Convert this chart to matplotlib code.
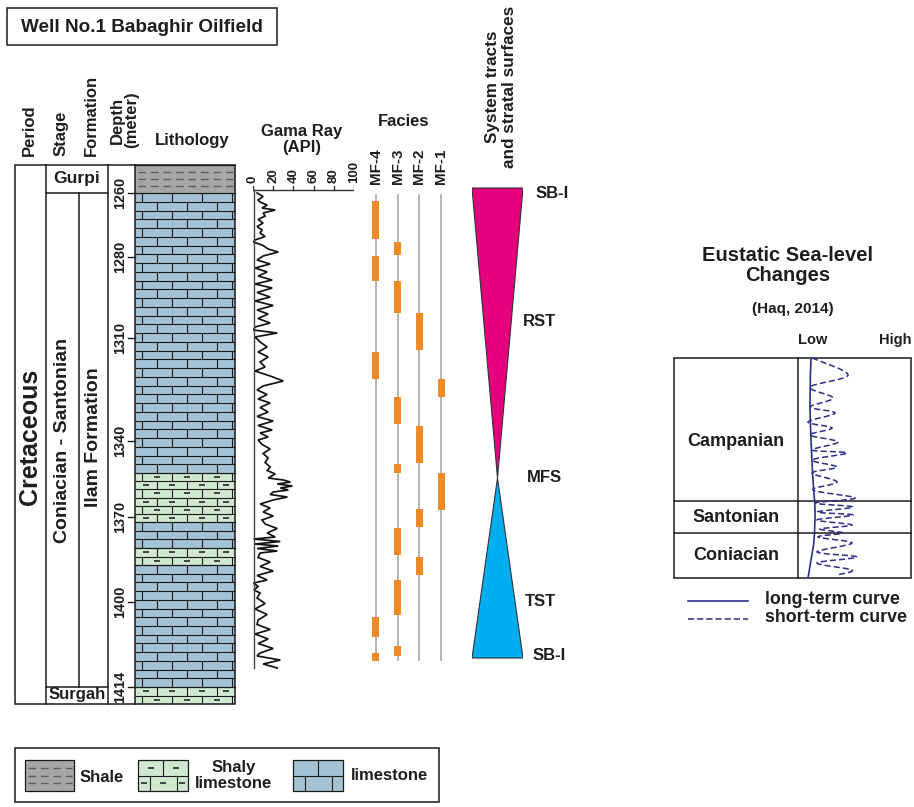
import numpy as np
import matplotlib
matplotlib.use('Agg')
import matplotlib.pyplot as plt
from matplotlib.patches import Rectangle, Polygon, PathPatch
from matplotlib.collections import LineCollection
from matplotlib.path import Path

plt.rcParams['font.family'] = ['Liberation Sans', 'DejaVu Sans']
plt.rcParams['font.weight'] = 'bold'

# ---------------- data (vertical unit = position down the log, chart rows) ----------------
depth_labels = ['1260', '1280', '1310', '1340', '1370', '1400', '1414']
depth_pos = [193, 257, 338, 441, 517, 602, 687]

lith_units = [('shale', 165, 193), ('limestone', 193, 473), ('shaly limestone', 473, 522),
              ('limestone', 522, 548), ('shaly limestone', 548, 565), ('limestone', 565, 687),
              ('shaly limestone', 687, 704)]

formations_top = ('Gurpi', 165, 193)
formations_bot = ('Surgah', 687, 704)

gr_ticks = [0, 20, 40, 60, 80, 100]
gr_pos = [193, 196.5, 200, 202, 205, 208, 210, 213, 216, 219.5, 223, 226.5, 230, 233, 236.5, 240,
          242, 245.5, 249, 252, 256, 260, 264, 268, 272, 276, 280,
          284, 288, 292.5, 297, 301, 305.5, 310, 314, 318.5, 323, 327,
          330, 333, 337, 342, 347, 352, 357, 362, 367, 371, 376, 381, 386,
          390, 394.5, 399, 403, 407.5, 412, 416.5, 421, 425.5, 430,
          433, 437, 440, 444.5, 449, 453.5, 458, 462.5, 467, 470.5, 474, 478,
          480, 482, 484, 486, 488, 490, 492, 494.5, 497, 500,
          504, 508, 512, 516, 520, 524, 528.5, 533, 537,
          539, 541.5, 544, 546, 548.5, 551, 553, 557.5, 562, 566.5, 571, 575.5, 580,
          583, 586.5, 590, 593, 598, 603.5, 609, 614.5, 620,
          624.5, 629.5, 634, 639, 643.5, 648.5, 653, 656, 660, 664, 668]
gr_api = [4, 10, 5, 7, 14, 9, 22, 10, 12, 5, 10, 4, 9, 7, 12, 2,
          0.5, 10, 15, 25, 10, 4, 17, 2, 14, 5, 19,
          2, 19, 4, 17, 2, 20, 4, 15, 5, 17, 2,
          0.5, 24, 2, 7, 14, 5, 15, 7, 12, 2, 17, 30, 10,
          4, 14, 5, 17, 7, 15, 4, 20, 5, 19,
          7, 15, 5, 9, 17, 10, 15, 12, 17, 14, 22, 15,
          30, 37, 24, 39, 27, 35, 20, 17, 34, 20,
          7, 17, 10, 20, 9, 12, 24, 14, 22,
          0.5, 27, 2, 25, 4, 24, 7, 5, 17, 7, 20, 4, 14,
          0.5, 5, 1, 7, 4, 12, 2, 14, 5,
          4, 17, 2, 15, 5, 20, 7, 4, 27, 10, 24]

facies_names = ['MF-4', 'MF-3', 'MF-2', 'MF-1']
facies_intervals = [
    [(201, 239), (256, 281), (352, 379), (617, 637), (653, 661)],
    [(242, 255), (281, 313), (397, 424), (464, 473), (528, 555), (580, 615), (646, 656)],
    [(313, 350), (426, 463), (509, 527), (557, 575)],
    [(379, 397), (473, 510)],
]
facies_span = (195, 660)

tract_names = ['RST', 'TST']
tract_bounds = [(188, 478), (478, 658)]
surface_names = ['SB-I', 'MFS', 'SB-I']

sl_stages = ['Campanian', 'Santonian', 'Coniacian']
sl_bounds = [358, 501, 533, 578]
long_pos = [358, 400, 440, 480, 510, 540, 560, 578]
long_val = [13, 12, 13, 15, 17, 16, 13, 10]
short_pos = [358, 375, 387, 398, 407, 413, 422, 428, 435, 442, 450, 453, 460, 467, 473,
             482, 490, 498, 503, 507, 512, 515, 520, 525, 529, 533, 537, 543, 552, 557,
             563, 570, 575]
short_val = [14, 50, 12, 35, 12, 37, 10, 34, 12, 40, 14, 49, 14, 39, 14,
             39, 15, 57, 17, 55, 19, 55, 19, 54, 22, 45, 20, 54, 19, 59,
             19, 54, 39]

# ---------------- figure ----------------
W, H = 914, 807
fig = plt.figure(figsize=(W / 100, H / 100), dpi=100)
bg = fig.add_axes([0, 0, 1, 1])
bg.set_xlim(0, W); bg.set_ylim(H, 0); bg.axis('off')

TXT = '#1e1e1e'
LINE = '#1b1b1b'
LIME = '#a3c2d6'
SHALY = '#cfe8cf'
SHALE = '#a6a6a6'


def txt(ax, x, y, s, size, **kw):
    kw.setdefault('ha', 'center'); kw.setdefault('va', 'center')
    ax.text(x, y, s, fontsize=size, color=TXT, fontweight='bold', **kw)


def brick_fill(ax, x0, x1, y0, y1, nrows, bw, phase, face, dashes, lw=0.8, row0=0):
    ax.add_patch(Rectangle((x0, y0), x1 - x0, y1 - y0, facecolor=face, edgecolor='none', zorder=1))
    h = (y1 - y0) / nrows
    segs, dsegs = [], []
    for r in range(nrows):
        ya = y0 + r * h; yb = ya + h
        if r > 0:
            segs.append([(x0, ya), (x1, ya)])
        off = (phase + (bw / 2 if (r + row0) % 2 else 0)) % bw
        joints = list(np.arange(x0 + off, x1 - 1, bw))
        joints = [j for j in joints if j > x0 + 1]
        for xj in joints:
            segs.append([(xj, ya), (xj, yb)])
        if dashes:
            edges = [x0] + joints + [x1]
            for a, b in zip(edges[:-1], edges[1:]):
                if b - a > 9:
                    c = (a + b) / 2; ym = (ya + yb) / 2
                    dsegs.append([(c - 3, ym), (c + 3, ym)])
    ax.add_collection(LineCollection(segs, colors=LINE, linewidths=lw, zorder=2))
    if dsegs:
        ax.add_collection(LineCollection(dsegs, colors=LINE, linewidths=lw * 1.4, zorder=2))


def shale_fill(ax, x0, x1, y0, y1, nrows):
    ax.add_patch(Rectangle((x0, y0), x1 - x0, y1 - y0, facecolor=SHALE, edgecolor='none', zorder=1))
    h = (y1 - y0) / (nrows + 1)
    for r in range(nrows):
        yy = y0 + h * (r + 1)
        ax.plot([x0 + 3, x1 - 2], [yy, yy], color='#5e5e5e', lw=1.0, ls=(0, (5.5, 3.5)), zorder=2)


def smooth_path(xs, ys):
    """Catmull-Rom curve through the read points, drawn as cubic Bezier segments."""
    P = np.column_stack([xs, ys]).astype(float)
    Pe = np.vstack([P[0], P, P[-1]])
    verts, codes = [P[0]], [Path.MOVETO]
    for i in range(1, len(Pe) - 2):
        p0, p1, p2, p3 = Pe[i - 1], Pe[i], Pe[i + 1], Pe[i + 2]
        verts += [p1 + (p2 - p0) / 6, p2 - (p3 - p1) / 6, p2]
        codes += [Path.CURVE4] * 3
    return Path(verts, codes)


# ---------------- title box ----------------
bg.add_patch(Rectangle((7, 8), 270, 37, facecolor='white', edgecolor=LINE, lw=1.1))
txt(bg, 142, 27, 'Well No.1 Babaghir Oilfield', 13.6)

# ---------------- column headers ----------------
txt(bg, 29, 156, 'Period', 12, rotation=90, va='bottom')
txt(bg, 61, 156, 'Stage', 12, rotation=90, va='bottom')
txt(bg, 91, 156, 'Formation', 12, rotation=90, va='bottom')
txt(bg, 124.5, 120, 'Depth\n(meter)', 12, rotation=90, linespacing=1.0, multialignment='center')
txt(bg, 192, 141, 'Lithology', 12)
txt(bg, 302, 139.5, 'Gama Ray\n(API)', 12, linespacing=1.05, multialignment='center')
txt(bg, 404, 122, 'Facies', 12)
txt(bg, 501, 87, 'System tracts\nand stratal surfaces', 12.3, rotation=90, linespacing=1.2,
    multialignment='center')

# ---------------- lithology column ----------------
X_LITH0, X_LITH1 = 135, 235
row_h = 8.75
row_count = 0
for kind, t, b in lith_units:
    n = max(2, int(round((b - t) / row_h)))
    if kind == 'shale':
        shale_fill(bg, X_LITH0, X_LITH1, t, b, 3)
    else:
        face = LIME if kind == 'limestone' else SHALY
        brick_fill(bg, X_LITH0, X_LITH1, t, b, n, 30, 7, face, kind == 'shaly limestone', row0=row_count)
        row_count += n
    bg.plot([X_LITH0, X_LITH1], [t, t], color=LINE, lw=0.9, zorder=3)

# frame
top, bot = 165, 704
bg.add_patch(Rectangle((15, top), 220, bot - top, facecolor='none', edgecolor=LINE, lw=1.1, zorder=4))
for xv in (46, 108, 135):
    bg.plot([xv, xv], [top, bot], color=LINE, lw=1.1, zorder=4)
bg.plot([79, 79], [formations_top[2], formations_bot[1]], color=LINE, lw=1.1, zorder=4)
bg.plot([46, 108], [formations_top[2]] * 2, color=LINE, lw=1.1, zorder=4)
bg.plot([46, 108], [formations_bot[1]] * 2, color=LINE, lw=1.1, zorder=4)
txt(bg, 77, (formations_top[1] + formations_top[2]) / 2, formations_top[0], 12.5)
txt(bg, 77, (formations_bot[1] + formations_bot[2]) / 2 - 1, formations_bot[0], 12)

txt(bg, 30.5, 437, 'Cretaceous', 18, rotation=90)
txt(bg, 62.5, 440, 'Coniacian - Santonian', 14, rotation=90)
txt(bg, 93.5, 437, 'Ilam Formation', 14, rotation=90)

for lab, p in zip(depth_labels, depth_pos):
    bg.plot([128, 135], [p, p], color=LINE, lw=1.0, zorder=4)
    txt(bg, 120, p, lab, 10.4, rotation=90)

# ---------------- gamma ray track ----------------
gr = fig.add_axes([253 / W, 0, 101 / W, 1])
gr.set_xlim(0, 100); gr.set_ylim(H, 0); gr.axis('off')
gr.plot(gr_api, gr_pos, color='#141414', lw=1.25, solid_joinstyle='miter')
gr.plot([0, 100], [190, 190], color='#333333', lw=1.0)
gr.plot([0.5, 0.5], [190, gr_pos[-1]], color='#444444', lw=1.0)
for tk in gr_ticks:
    gr.plot([tk, tk], [190, 186], color='#333333', lw=1.0)
    gr.text(tk, 183, str(tk), rotation=90, ha='center', va='bottom', fontsize=9.5,
            color=TXT, fontweight='bold')

# ---------------- facies track ----------------
fa = fig.add_axes([365 / W, 0, 87 / W, 1])
fa.set_xlim(-0.5, 3.5); fa.set_ylim(H, 0); fa.axis('off')
for i, (name, ivs) in enumerate(zip(facies_names, facies_intervals)):
    fa.plot([i, i], list(facies_span), color='#a9a9a9', lw=1.2, zorder=1)
    tops = [a for a, b in ivs]
    heights = [b - a for a, b in ivs]
    fa.bar([i] * len(ivs), heights, bottom=tops, width=0.33, color='#f08a24', zorder=2)
    fa.text(i, 184, name, rotation=90, ha='center', va='bottom', fontsize=11,
            color=TXT, fontweight='bold')

# ---------------- system tracts ----------------
st = fig.add_axes([472 / W, 0, 51 / W, 1])
st.set_xlim(-1, 1); st.set_ylim(H, 0); st.axis('off')
(r0, r1), (t0, t1) = tract_bounds
st.add_patch(Polygon([(-1, r0), (1, r0), (0, r1)], closed=True, facecolor='#e5007e',
                     edgecolor='#333333', lw=0.8))
st.add_patch(Polygon([(0, t0), (-1, t1), (1, t1)], closed=True, facecolor='#00aeef',
                     edgecolor='#333333', lw=0.8))
txt(bg, 552, r0 + 6, surface_names[0], 12)
txt(bg, 539, 322, tract_names[0], 12)
txt(bg, 544, r1, surface_names[1], 12)
txt(bg, 540, 601, tract_names[1], 12)
txt(bg, 549, t1 - 2, surface_names[2], 12)

# ---------------- eustatic sea level ----------------
txt(bg, 788, 265.5, 'Eustatic Sea-level\nChanges', 14.5, linespacing=1.05, multialignment='center')
txt(bg, 793, 309, '(Haq, 2014)', 11)
txt(bg, 813, 340, 'Low', 10.5)
txt(bg, 895, 340, 'High', 10.5)

bg.add_patch(Rectangle((674, sl_bounds[0]), 237, sl_bounds[-1] - sl_bounds[0], facecolor='none',
                       edgecolor=LINE, lw=1.1, zorder=4))
bg.plot([798, 798], [sl_bounds[0], sl_bounds[-1]], color=LINE, lw=1.1, zorder=4)
for yb in sl_bounds[1:-1]:
    bg.plot([674, 911], [yb, yb], color=LINE, lw=1.1, zorder=4)
for name, yc in zip(sl_stages, [442, 517, 556]):
    txt(bg, 736, yc, name, 13)

sl = fig.add_axes([798 / W, 0, 113 / W, 1])
sl.set_xlim(0, 113); sl.set_ylim(H, 0); sl.axis('off')
NAVY = '#2b2f86'
sl.add_patch(PathPatch(smooth_path(long_val, long_pos), fill=False, edgecolor=NAVY, lw=1.2))
sl.add_patch(PathPatch(smooth_path(short_val, short_pos), fill=False, edgecolor=NAVY, lw=1.1,
                       ls=(0, (4, 2))))

bg.plot([688, 748], [601, 601], color=NAVY, lw=1.2)
bg.plot([688, 748], [619, 619], color=NAVY, lw=1.1, ls=(0, (4, 2)))
txt(bg, 765, 600, 'long-term curve', 12.8, ha='left')
txt(bg, 765, 618, 'short-term curve', 12.8, ha='left')

# ---------------- lithology legend ----------------
bg.add_patch(Rectangle((15, 748), 424, 54, facecolor='white', edgecolor=LINE, lw=1.1))
shale_fill(bg, 25, 74, 760, 791, 3)
bg.add_patch(Rectangle((25, 760), 49, 31, facecolor='none', edgecolor=LINE, lw=0.9, zorder=3))
txt(bg, 102, 777, 'Shale', 12)
brick_fill(bg, 138, 188, 760, 791, 2, 27, 25, SHALY, True)
bg.add_patch(Rectangle((138, 760), 50, 31, facecolor='none', edgecolor=LINE, lw=0.9, zorder=3))
txt(bg, 234, 775.5, 'Shaly\nlimestone', 12, linespacing=1.1, multialignment='center')
brick_fill(bg, 293, 343, 760, 791, 2, 27, 25, LIME, False)
bg.add_patch(Rectangle((293, 760), 50, 31, facecolor='none', edgecolor=LINE, lw=0.9, zorder=3))
txt(bg, 389, 775, 'limestone', 12)

fig.savefig('out.png', dpi=100)
